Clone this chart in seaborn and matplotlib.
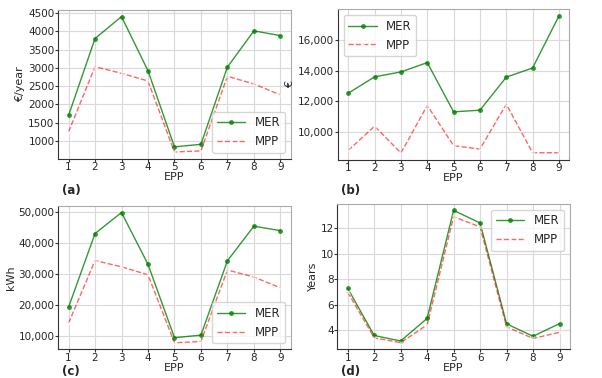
import matplotlib
matplotlib.use("Agg")
import matplotlib.pyplot as plt
import matplotlib.ticker as mticker
import pandas as pd
import seaborn as sns

sns.set_style("whitegrid")
plt.rcParams['font.family'] = ['DejaVu Sans']

epp = [1, 2, 3, 4, 5, 6, 7, 8, 9]

# (a) annual savings
cost_mer = [1700, 3800, 4400, 2920, 840, 910, 3020, 4010, 3880]
cost_mpp = [1250, 3030, 2850, 2640, 700, 730, 2770, 2560, 2260]
cost_ticks = [1000, 1500, 2000, 2500, 3000, 3500, 4000, 4500]

# (b) investment
inv_mer = [12520, 13590, 13910, 14520, 11300, 11410, 13570, 14170, 17570]
inv_mpp = [8780, 10370, 8610, 11720, 9090, 8870, 11800, 8630, 8630]
inv_ticks = [10000, 12000, 14000, 16000]

# (c) energy
kwh_mer = [19390, 43060, 49800, 33160, 9590, 10410, 34290, 45410, 43980]
kwh_mpp = [14290, 34390, 32350, 29800, 7960, 8370, 31330, 29080, 25610]
kwh_ticks = [10000, 20000, 30000, 40000, 50000]

# (d) payback
yrs_mer = [7.29, 3.60, 3.17, 4.94, 13.39, 12.40, 4.51, 3.54, 4.53]
yrs_mpp = [6.99, 3.42, 3.04, 4.43, 12.89, 12.10, 4.28, 3.37, 3.85]
yrs_ticks = [4, 6, 8, 10, 12]

panels = [
    ("(a)", cost_mer, cost_mpp, cost_ticks, "€/year", "lower right", False, [0.0963, 0.580, 0.387, 0.394]),
    ("(b)", inv_mer, inv_mpp, inv_ticks, "€", "upper left", True, [0.561, 0.577, 0.385, 0.399]),
    ("(c)", kwh_mer, kwh_mpp, kwh_ticks, "kWh", "lower right", True, [0.0963, 0.076, 0.387, 0.379]),
    ("(d)", yrs_mer, yrs_mpp, yrs_ticks, "Years", "upper right", False, [0.560, 0.076, 0.387, 0.385]),
]
label_pos = {"(a)": (0.103, 0.497), "(b)": (0.566, 0.497),
             "(c)": (0.103, 0.0), "(d)": (0.566, 0.0)}

fig = plt.figure(figsize=(6.02, 3.78), dpi=100)

for tag, mer, mpp, ticks, ylab, loc, commas, rect in panels:
    ax = fig.add_axes(rect)
    df = pd.DataFrame({"EPP": epp, "MER": mer, "MPP": mpp})
    sns.lineplot(data=df, x="EPP", y="MER", ax=ax, color="green", marker="o",
                 markersize=3.5, linewidth=1, markeredgewidth=0, label="MER", alpha=0.8)
    sns.lineplot(data=df, x="EPP", y="MPP", ax=ax, color="red", marker="x",
                 markersize=3.5, markeredgewidth=1, linewidth=1, linestyle="--",
                 label="MPP", alpha=0.6)
    ax.set_xticks(epp)
    ax.set_yticks(ticks)
    ax.set_xlabel("EPP", fontsize=8, labelpad=0)
    ax.set_ylabel(ylab, fontsize=8, labelpad=2)
    ax.tick_params(labelsize=7.5, pad=0.5, length=2, width=0.8, color="#333333",
                   bottom=True, left=True)
    if commas:
        ax.yaxis.set_major_formatter(mticker.StrMethodFormatter("{x:,.0f}"))
    for side, s in ax.spines.items():
        s.set_linewidth(0.8)
        s.set_color("#333333" if side in ("left", "bottom") else "#aaaaaa")
    ax.grid(color="#d9d9d9", linewidth=0.8)
    ax.legend(loc=loc, fontsize=8.5, frameon=True, handlelength=2.4)
    va = "center" if tag in ("(a)", "(b)") else "bottom"
    fig.text(label_pos[tag][0], label_pos[tag][1], tag, fontsize=8.5,
             fontweight="bold", va=va)

fig.savefig("out.png", dpi=100)
